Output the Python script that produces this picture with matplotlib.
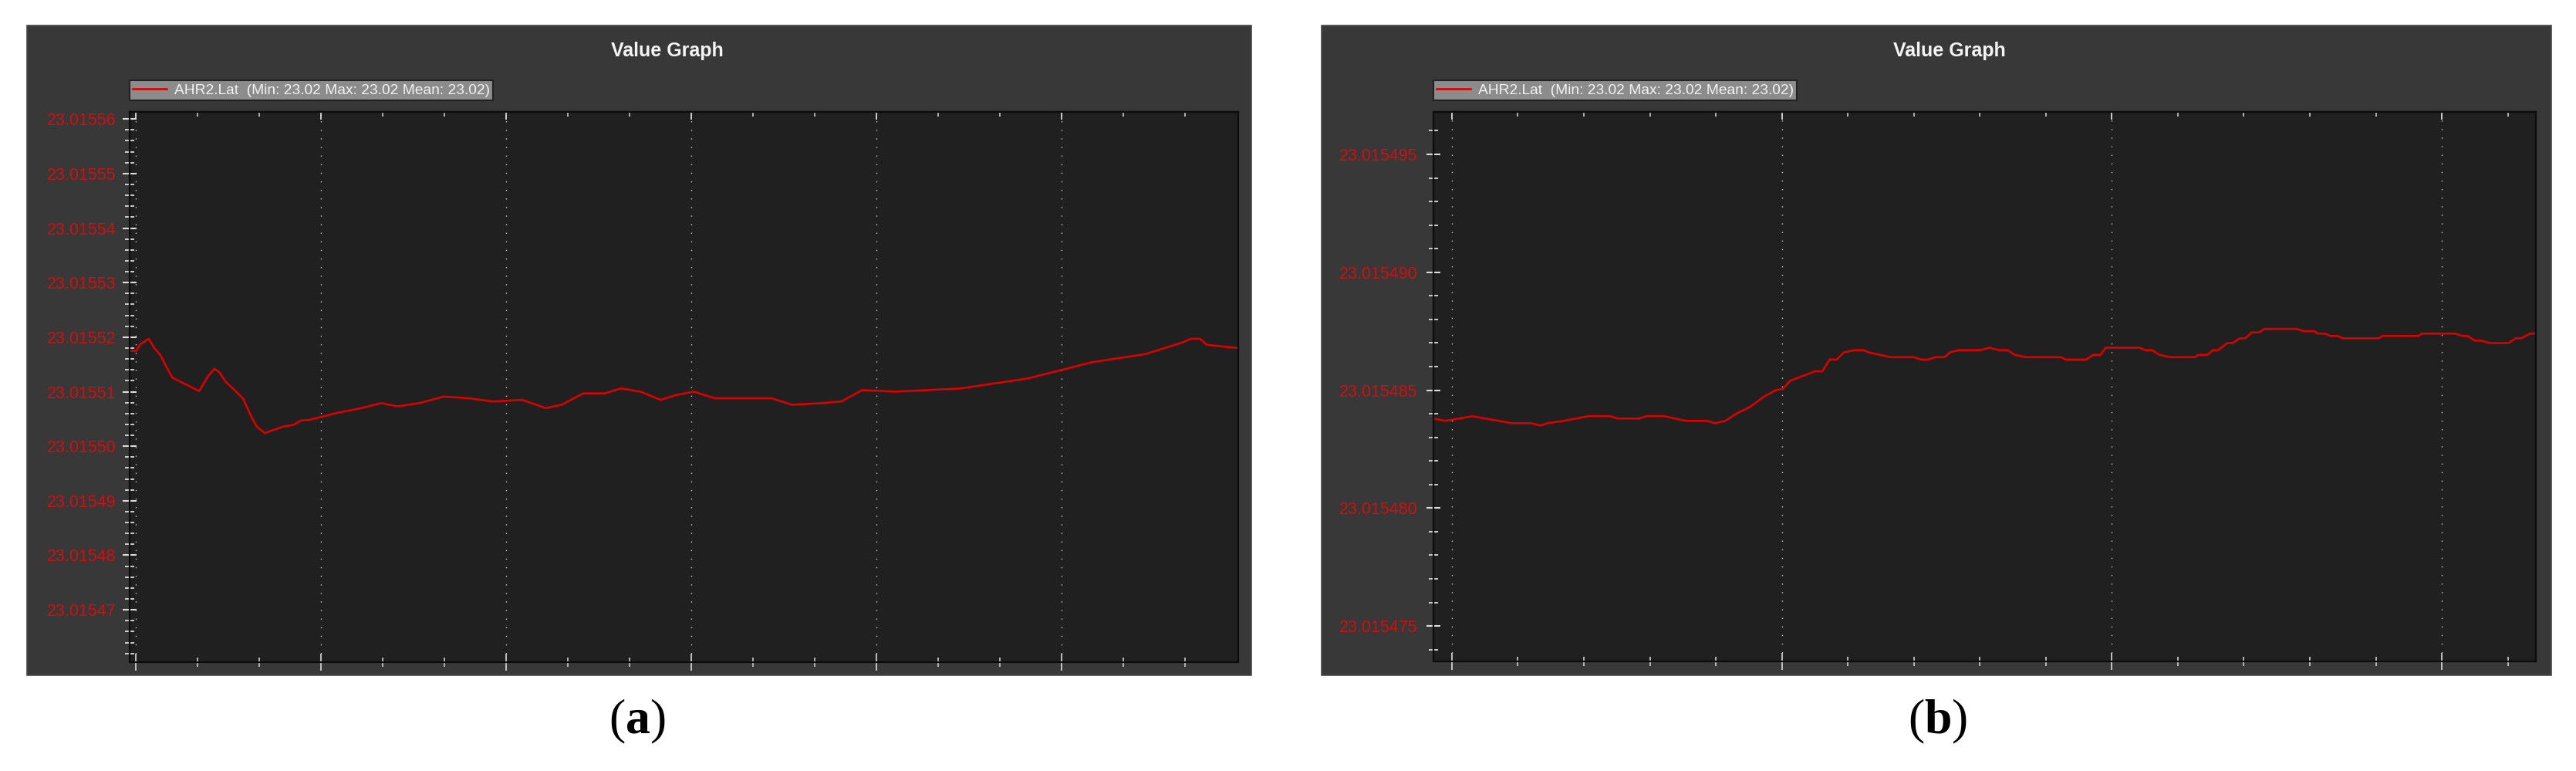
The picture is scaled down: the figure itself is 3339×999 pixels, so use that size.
import matplotlib
matplotlib.use("Agg")
import matplotlib.pyplot as plt
from matplotlib import font_manager
from matplotlib.patches import Rectangle
from matplotlib.ticker import FixedLocator, MultipleLocator, AutoMinorLocator, FormatStrFormatter

W, H = 3339, 999

# panel (a): AHR2.Lat over time
a_time = [-1.0, 0.1, 0.75, 2.1, 3.0, 4.0, 4.9, 5.9, 7.1, 8.9, 10.25, 11.75, 12.75, 13.6,
          14.5, 15.9, 17.4, 18.6, 19.6, 20.9, 22.6, 23.9, 25.5, 26.75, 28.0, 32.6, 36.6,
          39.75, 42.4, 45.9, 49.9, 53.9, 57.9, 62.6, 66.4, 69.0, 72.5, 76.0, 78.6, 81.8,
          85.0, 87.6, 90.4, 93.8, 99.1, 103.0, 106.3, 111.0, 114.3, 117.7, 123.0, 128.4,
          133.7, 139.0, 144.4, 149.7, 154.9, 163.6, 169.5, 170.9, 172.4, 173.5, 175.9, 178.6]
a_lat = [23.0155175, 23.0155175, 23.0155187, 23.0155197, 23.0155180, 23.0155167, 23.0155147,
         23.0155126, 23.0155119, 23.0155109, 23.0155101, 23.0155129, 23.0155142, 23.0155135,
         23.0155119, 23.0155104, 23.0155087, 23.0155057, 23.0155036, 23.0155024, 23.0155031,
         23.0155036, 23.0155039, 23.0155047, 23.0155048, 23.0155061, 23.0155070, 23.0155079,
         23.0155073, 23.0155079, 23.0155091, 23.0155088, 23.0155082, 23.0155085, 23.0155070,
         23.0155076, 23.0155097, 23.0155097, 23.0155106, 23.0155100, 23.0155085, 23.0155094,
         23.0155100, 23.0155088, 23.0155088, 23.0155088, 23.0155076, 23.0155079, 23.0155082,
         23.0155103, 23.0155100, 23.0155103, 23.0155106, 23.0155115, 23.0155124, 23.0155139,
         23.0155154, 23.0155169, 23.0155190, 23.0155197, 23.0155197, 23.0155186, 23.0155183,
         23.0155180]
a_yticks = [23.01547, 23.01548, 23.01549, 23.01550, 23.01551, 23.01552, 23.01553, 23.01554,
            23.01555, 23.01556]
a_ylim = (23.0154604, 23.0155613)
a_xlim = (-1.0, 178.6)

# panel (b)
b_time = [-2.8, -1.02, 1.16, 3.06, 4.97, 7.14, 9.05, 12.04, 13.4, 14.5, 16.94, 18.85, 20.75,
          24.01, 25.1, 28.37, 29.46, 32.18, 33.81, 35.45, 38.71, 39.8, 41.43, 43.07, 45.24,
          47.15, 49.05, 50.14, 51.23, 53.13, 55.04, 56.13, 57.22, 58.31, 59.39, 61.03, 62.38,
          63.2, 64.84, 66.47, 70.0, 71.09, 72.18, 73.27, 74.63, 75.45, 76.81, 80.07, 81.44,
          82.86, 84.2, 85.29, 86.92, 92.32, 92.97, 96.11, 97.18, 98.27, 99.07, 104.2, 105.0,
          106.1, 107.2, 108.8, 112.6, 113.1, 114.5, 115.3, 116.1, 117.5, 118.3, 119.4, 120.2,
          121.2, 122.3, 123.1, 128.0, 129.1, 130.7, 131.2, 132.3, 133.1, 134.2, 135.0, 140.4,
          141.0, 146.4, 147.0, 152.0, 153.1, 153.9, 155.0, 156.0, 157.2, 160.1, 161.2, 162.0,
          163.4, 164.25]
b_lat = [23.0154838, 23.0154837, 23.0154838, 23.0154839, 23.0154838, 23.0154837, 23.0154836,
         23.0154836, 23.0154835, 23.0154836, 23.0154837, 23.0154838, 23.0154839, 23.0154839,
         23.0154838, 23.0154838, 23.0154839, 23.0154839, 23.0154838, 23.0154837, 23.0154837,
         23.0154836, 23.0154837, 23.0154840, 23.0154843, 23.0154847, 23.0154850, 23.01548505,
         23.0154854, 23.0154856, 23.0154858, 23.0154858, 23.0154863, 23.0154863, 23.0154866,
         23.0154867, 23.0154867, 23.0154866, 23.0154865, 23.0154864, 23.0154864, 23.0154863,
         23.0154863, 23.0154864, 23.0154864, 23.0154866, 23.0154867, 23.0154867, 23.0154868,
         23.0154867, 23.0154867, 23.0154865, 23.0154864, 23.0154864, 23.0154863, 23.0154863,
         23.0154865, 23.0154865, 23.0154868, 23.0154868, 23.0154867, 23.0154867, 23.0154865,
         23.0154864, 23.0154864, 23.0154865, 23.0154865, 23.0154867, 23.0154867, 23.0154870,
         23.0154870, 23.0154872, 23.0154872, 23.01548745, 23.01548745, 23.0154876, 23.0154876,
         23.0154875, 23.0154875, 23.0154874, 23.0154874, 23.0154873, 23.0154873, 23.0154872,
         23.0154872, 23.0154873, 23.0154873, 23.0154874, 23.0154874, 23.0154873, 23.0154873,
         23.0154871, 23.0154871, 23.0154870, 23.0154870, 23.0154872, 23.0154872, 23.0154874,
         23.0154874]
b_yticks = [23.015475, 23.015480, 23.015485, 23.015490, 23.015495]
b_ylim = (23.0154735, 23.0154968)
b_xlim = (-2.8, 164.25)

legend_label = "AHR2.Lat  (Min: 23.02 Max: 23.02 Mean: 23.02)"
panel_title = "Value Graph"
captions = ["a", "b"]

BOX_BG = "#383838"
PLOT_BG = "#202020"
LINE_RED = "#dc0000"
LABEL_RED = "#d01010"
TICK_COL = "#dcdcdc"


def pick_font(names):
    for n in names:
        try:
            font_manager.findfont(font_manager.FontProperties(family=n), fallback_to_default=False)
            return n
        except Exception:
            pass
    return "DejaVu Sans"


NARROW = pick_font(["Liberation Sans Narrow", "Liberation Sans", "DejaVu Sans"])
SERIF = pick_font(["Liberation Serif", "DejaVu Serif"])

plt.rcParams["mathtext.fontset"] = "custom"
plt.rcParams["mathtext.rm"] = SERIF
plt.rcParams["mathtext.bf"] = SERIF + ":bold"


def fig_rect(x0, y0, x1, y1):
    # pixel box (top-left origin) -> figure fraction [left, bottom, width, height]
    return [x0 / W, 1 - y1 / H, (x1 - x0) / W, (y1 - y0) / H]


def draw_panel(fig, box, plot, time, lat, yticks, ylim, xlim, major_x, minor_div_x, fmt,
               label_pad, title_x, cap_x, cap):
    bx = fig_rect(*box)
    fig.patches.append(Rectangle((bx[0], bx[1]), bx[2], bx[3], transform=fig.transFigure,
                                 facecolor=BOX_BG, edgecolor="#4a4a4a", lw=1.2, zorder=-10))
    ax = fig.add_axes(fig_rect(*plot))
    ax.set_zorder(2)
    ax.set_facecolor(PLOT_BG)
    ax.plot(time, lat, color=LINE_RED, lw=1.9, label=legend_label)
    ax.set_xlim(*xlim)
    ax.set_ylim(*ylim)

    ax.xaxis.set_major_locator(MultipleLocator(major_x))
    ax.xaxis.set_minor_locator(AutoMinorLocator(minor_div_x))
    ax.yaxis.set_major_locator(FixedLocator(yticks))
    ax.yaxis.set_minor_locator(AutoMinorLocator(5))
    ax.yaxis.set_major_formatter(FormatStrFormatter(fmt))

    ax.tick_params(axis="x", which="major", direction="inout", length=16, width=1.2,
                   color=TICK_COL, labelbottom=False)
    ax.tick_params(axis="x", which="minor", direction="inout", length=8, width=1.1,
                   color=TICK_COL)
    ax.tick_params(axis="y", which="major", direction="inout", length=13, width=1.5,
                   color=TICK_COL, pad=label_pad, labelcolor=LABEL_RED, labelsize=15.5)
    ax.tick_params(axis="y", which="minor", direction="inout", length=8, width=1.3,
                   color=TICK_COL)
    for lbl in ax.get_yticklabels():
        lbl.set_family(NARROW)

    top = ax.secondary_xaxis("top")
    top.xaxis.set_major_locator(MultipleLocator(major_x))
    top.xaxis.set_minor_locator(AutoMinorLocator(minor_div_x))
    top.tick_params(axis="x", which="major", direction="in", length=7, width=1.3,
                    color=TICK_COL, labeltop=False)
    top.tick_params(axis="x", which="minor", direction="in", length=4.5, width=1.1,
                    color=TICK_COL)
    top.spines["top"].set_color("#0c0c0c")
    top.spines["top"].set_linewidth(1.6)

    ax.grid(axis="x", which="major", color="#c8c8c8", lw=1.0, linestyle=(0, (1, 7)))
    for s in ax.spines.values():
        s.set_color("#0c0c0c")
        s.set_linewidth(1.6)

    leg = ax.legend(loc="upper left", bbox_to_anchor=(plot[0] / W, 1 - 104 / H),
                    bbox_transform=fig.transFigure, borderaxespad=0, frameon=True,
                    fancybox=False, framealpha=1, facecolor="#8c8c8c", edgecolor="#222222",
                    borderpad=0.22, handlelength=2.3, handletextpad=0.5,
                    prop={"family": NARROW, "size": 13.8})
    leg.get_frame().set_linewidth(1.5)
    for t in leg.get_texts():
        t.set_color("#f2f2f2")

    fig.text(title_x / W, 1 - 66 / H, panel_title, ha="center", va="center",
             color="#f4f4f4", family=NARROW, weight="bold", fontsize=18)
    fig.text(cap_x / W, 1 - 935 / H, r"($\mathbf{%s}$)" % cap, ha="center", va="center",
             color="black", family=SERIF, fontsize=46)
    return ax


fig = plt.figure(figsize=(W / 100, H / 100), dpi=100)
fig.patch.set_facecolor("white")

draw_panel(fig, (35, 33, 1622, 875), (168, 145, 1605, 858), a_time, a_lat, a_yticks,
           a_ylim, a_xlim, 30, 3, "%.5f", 6, 865, 826, captions[0])
draw_panel(fig, (1713, 33, 3307, 875), (1858, 145, 3287, 857), b_time, b_lat, b_yticks,
           b_ylim, b_xlim, 50, 5, "%.6f", 8, 2527, 2512, captions[1])

fig.savefig("out.png", dpi=100, facecolor="white")
